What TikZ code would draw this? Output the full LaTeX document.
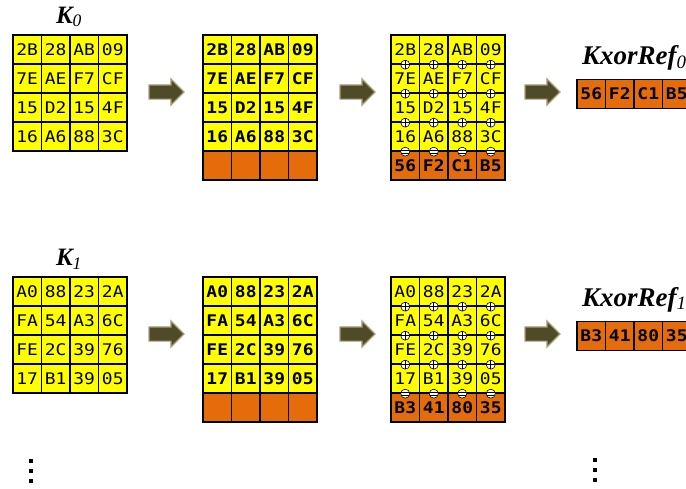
\documentclass[tikz,border=0pt]{standalone}
\usepackage{fontspec}
\setmainfont{Liberation Serif}
\newfontfamily\hexfont[FakeStretch=1.12]{DejaVu Sans Mono}
\newcommand{\cellreg}{\hexfont\fontsize{16}{16}\selectfont}
\newcommand{\cellbold}{\hexfont\bfseries\fontsize{16}{16}\selectfont}
\usetikzlibrary{positioning,shapes.arrows}
\definecolor{keyYellow}{HTML}{FFFF00}
\definecolor{keyOrange}{HTML}{E46C0A}
\definecolor{arrFill}{HTML}{4F4A28}
\definecolor{arrEdge}{HTML}{A8A078}

\begin{document}
\begin{tikzpicture}[x=1pt,y=-1pt,
      cell/.style={draw=black,line width=1.3pt,fill=keyYellow,minimum width=28.5pt,minimum height=29pt,inner sep=0pt},
      rcell/.style={cell,fill=keyOrange,font=\cellbold},
      xorop/.style={circle,draw=black,fill=white,line width=0.6pt,minimum size=9pt,inner sep=0pt,
        path picture={\draw[line width=0.6pt] (path picture bounding box.north)--(path picture bounding box.south)
          (path picture bounding box.west)--(path picture bounding box.east);}},
      eqop/.style={circle,draw=black,fill=white,line width=0.6pt,minimum size=9pt,inner sep=0pt,
        path picture={\draw[line width=0.8pt] ([yshift=1.3pt]path picture bounding box.west)--([yshift=1.3pt]path picture bounding box.east)
          ([yshift=-1.3pt]path picture bounding box.west)--([yshift=-1.3pt]path picture bounding box.east);}},
      blockarr/.style={single arrow,draw=arrEdge,fill=arrFill,line width=1.2pt,minimum height=35pt,
        single arrow head extend=6pt,inner sep=6.5pt},
      keylbl/.style={font=\fontsize{25}{25}\selectfont\bfseries\itshape},
      reflbl/.style={font=\fontsize{27}{27}\selectfont\bfseries\itshape,anchor=base west,inner sep=0pt}]
      \useasboundingbox (0,0) rectangle (686,488);
      \foreach \k/\dy/\rows/\res in {0/0/{{2B,28,AB,09},{7E,AE,F7,CF},{15,D2,15,4F},{16,A6,88,3C}}/{56,F2,C1,B5},
                                    1/242/{{A0,88,23,2A},{FA,54,A3,6C},{FE,2C,39,76},{17,B1,39,05}}/{B3,41,80,35}} {
        % the three grids of the key
        \foreach \g/\gx/\gf in {a/-1.25/\cellreg,b/188.75/\cellbold,c/376.75/\cellreg}
          \foreach \row [count=\r] in \rows
            \foreach \v [count=\c] in \row
              \node[cell,font=\gf] (k\k\g-\r-\c) at ({\gx+28.5*\c},{20.5+29*\r+\dy}) {\v};
        % orange rows and the result
        \foreach \v [count=\c] in \res {
          \node[rcell] (k\k b-5-\c) at ({188.75+28.5*\c},{165.5+\dy}) {};
          \node[rcell] (k\k c-5-\c) at ({376.75+28.5*\c},{165.5+\dy}) {\v};
          \node[rcell] (ref\k-\c) at ({562.75+28.5*\c},{94+\dy}) {\v};
        }
        \foreach \c in {1,...,4} {
          \foreach \r in {1,2,3} \node[xorop] (xo\k-\r-\c) at (k\k c-\r-\c.south) {};
          \node[eqop] (eq\k-\c) at (k\k c-4-\c.south) {};
        }
        % block arrows
        \node[blockarr] (ar\k-1) at (163,{92+\dy}) {};
        \node[blockarr] (ar\k-2) at (354,{92+\dy}) {};
        \node[blockarr] (ar\k-3) at (539,{92+\dy}) {};
        % labels
        \node[keylbl] (lk\k) at (69,{17+\dy}) {K\textsubscript{\mdseries\k}};
        \node[reflbl] (lr\k) at (582,{64+\dy}) {KxorRef\textsubscript{\mdseries\k}};
      }
      % more keys follow
      \foreach \d in {0,1,2} {
        \fill (29,{459+10*\d}) rectangle +(4,4);
        \fill (593,{458+10*\d}) rectangle +(4,4);
      }
    \end{tikzpicture}
\end{document}
